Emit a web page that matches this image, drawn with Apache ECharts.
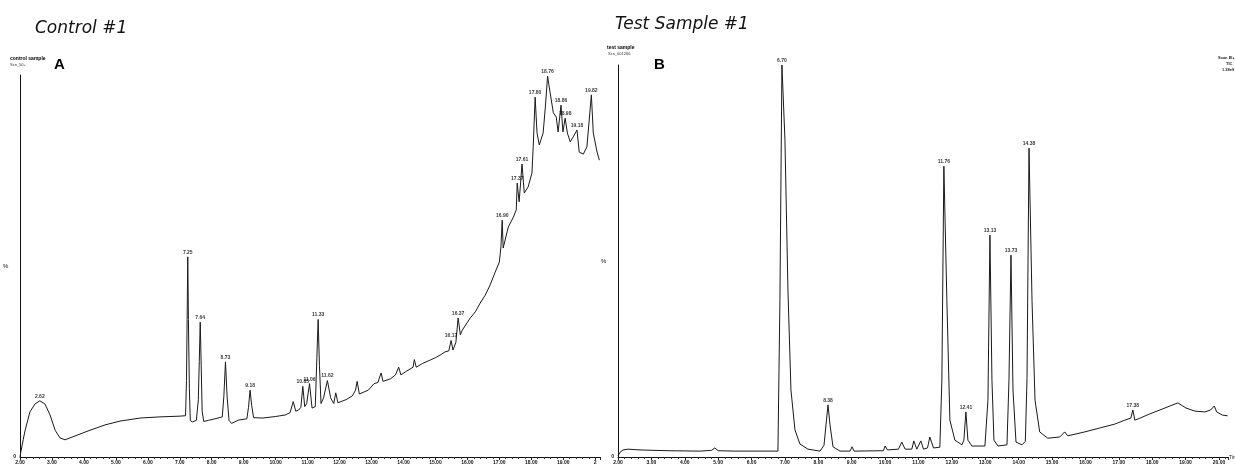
<!DOCTYPE html>
<html><head><meta charset="utf-8">
<script src="https://cdn.jsdelivr.net/npm/echarts@6/dist/echarts.min.js"></script>
<style>html,body{margin:0;padding:0;background:#fff}#c{width:1235px;height:466px}</style>
</head><body><div id="c"></div>
<script>
// Chromatogram A (control sample): [retention time (min), relative abundance %]
var traceA = [
[2.00,0],[2.03,1.5],[2.10,4.5],[2.16,7],[2.31,11.8],[2.47,13.9],[2.62,14.7],[2.78,13.9],[2.94,11],[3.10,7],[3.25,5],[3.41,4.5],[3.72,5.5],[4.19,7],[4.66,8.4],[5.13,9.4],[5.76,10.2],[6.38,10.5],[7.01,10.7],[7.18,10.8],
[7.21,20],[7.23,36],[7.25,52.4],[7.27,36],[7.30,18],[7.33,9.5],[7.40,9.2],[7.52,9.6],
[7.58,15],[7.61,25],[7.64,35.3],[7.67,24],[7.70,12],[7.75,9.3],[7.90,9.6],[8.10,10],[8.33,10.5],
[8.38,16],[8.43,24.9],[8.48,16],[8.54,9.6],[8.62,8.8],[8.85,9.7],[9.10,10],
[9.15,13],[9.20,17.5],[9.25,13.5],[9.31,10.3],[9.6,10.2],[10.0,10.6],[10.3,11],[10.45,11.6],
[10.55,14.5],[10.63,12],[10.72,12.3],[10.79,13],[10.85,18.5],[10.91,13.2],[10.97,14],[11.06,19.2],[11.14,12.8],[11.24,13.2],
[11.29,26],[11.33,36],[11.37,24],[11.42,14],[11.5,15.5],[11.62,20],[11.72,15.5],[11.82,14],[11.88,16.8],[11.95,14.2],[12.2,15],[12.4,16],[12.5,17.5],[12.55,19.8],[12.62,16.5],[12.9,17.5],[13.08,19.2],[13.2,19.5],[13.3,22],[13.36,19.8],[13.6,20.5],[13.75,21.5],[13.85,23.5],[13.92,21.5],[14.1,22.5],[14.3,23.5],[14.34,25.5],[14.4,23.5],[14.6,24.5],[14.84,25.4],[15.0,26],[15.15,26.7],[15.3,27.5],[15.42,27.8],
[15.49,30.5],[15.55,28],[15.64,30],[15.71,36.4],[15.78,32],[15.84,33.2],[16.09,36.4],[16.25,38],[16.40,40.3],[16.56,42.4],[16.71,45],[16.87,48.4],[17.00,51],[17.05,55],[17.09,62],[17.12,54.7],[17.28,60.2],[17.44,62.8],[17.53,64.7],[17.56,71.7],[17.62,66.8],[17.71,76.7],[17.78,69.1],[17.90,70.7],[18.02,74.3],[18.06,81.2],[18.12,94.2],[18.18,84.8],[18.25,81.7],[18.37,84.8],[18.44,91.6],[18.51,99.7],[18.59,95.3],[18.69,90.1],[18.78,89],[18.84,85.1],[18.93,92.1],[18.99,85.1],[19.06,88.7],[19.13,84.8],[19.22,82.5],[19.31,83.8],[19.43,85.6],[19.50,79.8],[19.63,79.3],[19.74,81.2],[19.88,94.8],[19.94,84.8],[20.06,79.8],[20.13,77.7]
];
var peakTimeA  = [2.62,7.25,7.64,8.43,9.20,10.85,11.06,11.33,11.62,15.49,15.71,17.09,17.56,17.71,18.12,18.51,18.93,19.06,19.43,19.88];
var peakValueA = [14.7,52.4,35.3,24.9,17.5,18.5,19.2,36,20,30.5,36.4,62,71.7,76.7,94.2,99.7,92.1,88.7,85.6,94.8];
var peakLabelA = ["2.62","7.25","7.64","8.73","9.18","10.85","11.06","11.33","11.62","16.17","16.37","16.90","17.37","17.61","17.80","18.76","18.86","18.98","19.18","19.82"];

// Chromatogram B (test sample)
var traceB = [
[2.00,0.3],[2.06,1.2],[2.15,1.8],[2.30,2.0],[2.66,1.8],[3.5,1.6],[4.46,1.5],[4.80,1.7],[4.90,2.3],[5.00,1.6],[5.5,1.5],[6.79,1.5],
[6.85,40],[6.91,100],[7.00,80.9],[7.09,42.6],[7.18,17.1],[7.30,6.9],[7.45,3.3],[7.69,2.0],[8.05,1.5],
[8.17,3],[8.23,8.2],[8.29,13.3],[8.35,8.2],[8.44,2.6],[8.65,1.5],[8.95,1.5],[9.01,2.6],[9.07,1.5],[9.95,1.6],[10.0,2.8],[10.07,1.8],[10.40,2.0],[10.50,3.8],[10.60,2.0],[10.80,2.0],[10.86,4.1],[10.95,2.0],[11.00,2.1],[11.07,4.1],[11.15,2.0],[11.27,2.3],[11.34,5.1],[11.45,2.3],[11.64,2.5],
[11.70,19.6],[11.76,74.2],[11.85,40],[11.94,9.4],[12.09,4.3],[12.30,3.1],[12.36,4.3],[12.42,11.5],[12.48,4.3],[12.60,2.8],[12.99,2.8],
[13.08,14.5],[13.14,56.6],[13.20,19.6],[13.26,4.3],[13.38,2.8],[13.65,3.1],[13.71,19.6],[13.77,51.5],[13.83,17.1],[13.92,3.8],[14.10,3.1],[14.20,4],[14.25,20],[14.31,78.8],[14.40,40],[14.49,14.5],[14.63,6.4],[14.87,4.8],[15.23,5.1],[15.38,6.4],[15.47,5.4],[15.98,6.4],[16.43,7.4],[16.88,8.4],[17.18,9.4],[17.36,9.9],[17.42,12],[17.48,9.4],[17.63,9.9],[17.93,11],[18.23,12],[18.53,13],[18.77,13.8],[19.01,12.5],[19.28,11.7],[19.58,11.5],[19.75,12],[19.86,13],[19.93,11.5],[20.10,10.7],[20.26,10.5]
];
var peakTimeB  = [6.91,8.29,11.76,12.42,13.14,13.77,14.31,17.42];
var peakValueB = [100,13.3,74.2,11.5,56.6,51.5,78.8,12];
var peakLabelB = ["6.70","8.38","11.76","12.41","13.13","13.73","14.38","17.38"];

var xTicks = {min: 2, interval: 1};
var FONT = 'Liberation Sans';

function pairs(t, v){ return t.map(function(x,i){ return [x, v[i]]; }); }

function xAxis(idx, max, lastShort){
  return {
    type:'value', gridIndex: idx, min: xTicks.min, max: max, interval: xTicks.interval,
    axisLine:{show:true, onZero:false, lineStyle:{color:'#111', width:1}},
    axisTick:{show:true, length:3, lineStyle:{color:'#222'}},
    minorTick:{show:true, splitNumber:5, length:2, lineStyle:{color:'#333'}},
    splitLine:{show:false},
    axisLabel:{fontSize:5, fontFamily:FONT, fontWeight:'bold', color:'#111', margin:3, showMaxLabel:true,
      formatter:function(v){ if (v > 20.001) return ''; if (lastShort && Math.abs(v-20)<1e-6) return '2'; return v.toFixed(2); }}
  };
}
function yAxis(idx){
  return {
    type:'value', gridIndex: idx, min:0, max:100, interval:100,
    name:'%', nameLocation:'middle', nameGap:8, nameRotate:0,
    nameTextStyle:{fontSize:6, fontFamily:FONT, color:'#111'},
    axisLine:{show:true, lineStyle:{color:'#111', width:1}},
    axisTick:{show:false}, splitLine:{show:false},
    axisLabel:{fontSize:5, fontFamily:FONT, fontWeight:'bold', color:'#111', margin:4,
      formatter:function(v){ return v===0 ? '0' : ''; }}
  };
}
function lineSeries(idx, data){
  return {type:'line', xAxisIndex:idx, yAxisIndex:idx, data:data, showSymbol:false, symbol:'none',
    lineStyle:{color:'#1a1a1a', width:1}, animation:false, silent:true, z:2};
}
function labelSeries(idx, t, v, labels){
  return {type:'scatter', xAxisIndex:idx, yAxisIndex:idx, data:pairs(t,v), symbolSize:0, animation:false, silent:true,
    label:{show:true, position:'top', distance:2, fontSize:5, fontFamily:FONT, fontWeight:'bold', color:'#000',
      formatter:function(p){ return labels[p.dataIndex]; }}, z:3};
}

var chart = echarts.init(document.getElementById('c'), null, {renderer:'canvas'});
chart.setOption({
  backgroundColor:'#fff',
  animation:false,
  grid:[
    {left:20, top:75, width:580, height:382},
    {left:618, top:65, width:610, height:392}
  ],
  xAxis:[xAxis(0, 20.15, true), xAxis(1, 20.27, false)],
  yAxis:[yAxis(0), yAxis(1)],
  series:[
    lineSeries(0, traceA), labelSeries(0, peakTimeA, peakValueA, peakLabelA),
    lineSeries(1, traceB), labelSeries(1, peakTimeB, peakValueB, peakLabelB)
  ],
  graphic:[
    {type:'text', left:35, top:20, style:{text:'Control #1', fontSize:17, fontFamily:'DejaVu Sans', fontStyle:'italic', fill:'#111'}},
    {type:'text', left:615, top:16, style:{text:'Test Sample #1', fontSize:17, fontFamily:'DejaVu Sans', fontStyle:'italic', fill:'#111'}},
    {type:'text', left:10, top:56, style:{text:'control sample', fontSize:5, fontWeight:'bold', fontFamily:FONT, fill:'#000'}},
    {type:'text', left:10, top:63, style:{text:'Scn_50+', fontSize:4, fontFamily:FONT, fill:'#333'}},
    {type:'text', left:54, top:57, style:{text:'A', fontSize:15, fontWeight:'bold', fontFamily:FONT, fill:'#000'}},
    {type:'text', left:607, top:45, style:{text:'test sample', fontSize:5, fontWeight:'bold', fontFamily:FONT, fill:'#000'}},
    {type:'text', left:608, top:52, style:{text:'Scn_001266', fontSize:4, fontFamily:FONT, fill:'#333'}},
    {type:'text', left:654, top:57, style:{text:'B', fontSize:15, fontWeight:'bold', fontFamily:FONT, fill:'#000'}},
    {type:'text', left:1218, top:56, style:{text:'Scan EI+', fontSize:4, fontWeight:'bold', fontFamily:FONT, fill:'#222'}},
    {type:'text', left:1226, top:62, style:{text:'TIC', fontSize:4, fontWeight:'bold', fontFamily:FONT, fill:'#222'}},
    {type:'text', left:1222, top:68, style:{text:'1.38e9', fontSize:4, fontWeight:'bold', fontFamily:FONT, fill:'#222'}},
    {type:'text', left:1229, top:455, style:{text:'Time', fontSize:5, fontFamily:FONT, fill:'#222'}}
  ]
});
</script></body></html>
